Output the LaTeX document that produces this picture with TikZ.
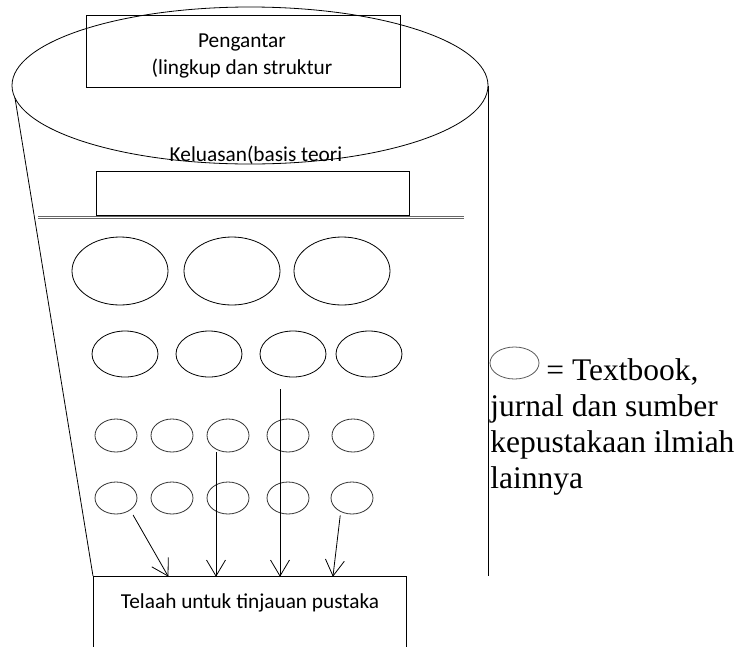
\documentclass[tikz,border=0pt]{standalone}
\usepackage{fontspec}
\setmainfont{Liberation Serif}
\newfontfamily\calfont{Carlito}
\usetikzlibrary{shapes.geometric,calc}
\begin{document}
\begin{tikzpicture}[x=1pt,y=-1pt,line width=0.8pt,
  oval/.style={draw,ellipse,inner sep=0pt,outer sep=0pt},
  box/.style={draw,rectangle,inner sep=0pt,outer sep=0pt,anchor=north west},
  sans/.style={font=\calfont\fontsize{21.3}{24}\selectfont,inner sep=0pt,anchor=base},
  serif/.style={font=\fontsize{31.5}{36}\selectfont,inner sep=0pt,anchor=base west},
  small/.style={oval,draw=black!80},
  barb/.style={line width=0.8pt,line join=miter}]
\path[use as bounding box] (0,0) rectangle (742,646);
\clip (0,0) rectangle (742,646);
% top cylinder cap
\node[oval,minimum width=476pt,minimum height=157pt] (top) at (250,85.5) {};
\node[box,minimum width=314pt,minimum height=72pt] (intro) at (86,15) {};
\node[sans] (t1) at (242,47) {Pengantar};
\node[sans] (t2) at (242,74) {(lingkup dan struktur};
\node[sans] (t3) at (256,161) {Keluasan(basis teori};
\node[box,minimum width=313pt,minimum height=44pt] (kel) at (96,171) {};
% double line
\draw[black!60,line width=0.7pt] (38,216) -- (464,216);
\draw[black!60,line width=0.7pt] (38,218.6) -- (464,218.6);
% row 1
\foreach \n/\x in {a/120,b/232,c/342}
  \node[oval,minimum width=96pt,minimum height=68pt] (r1\n) at (\x,271) {};
% row 2
\foreach \n/\x in {a/125,b/209,c/293,d/369}
  \node[oval,minimum width=66pt,minimum height=46pt] (r2\n) at (\x,354) {};
% row 3
\foreach \n/\x in {a/116,b/172,c/228,d/288,e/353}
  \node[small,minimum width=42pt,minimum height=33pt] (r3\n) at (\x,435.5) {};
% row 4
\foreach \n/\x in {a/116,b/172,c/228,d/288,e/352}
  \node[small,minimum width=42pt,minimum height=32pt] (r4\n) at (\x,498) {};
% bottom box
\node[box,minimum width=313pt,minimum height=100pt] (bot) at (93,576) {};
\node[sans] (t4) at (250,608) {Telaah untuk tinjauan pustaka};
% sides
\draw (top.183) -- (bot.north west);
\draw (top.east) -- (top.east |- bot.north);
% arrows
\coordinate (e1) at (168,576);
\coordinate (e2) at (216,576);
\coordinate (e3) at (280,576);
\coordinate (e4) at (333,576);
\coordinate (s1) at ($(r4a.-40)!6pt!(e1)$);
\coordinate (s2) at (r3c.south -| e2);
\coordinate (s3) at ($(r2c.south -| e3)+(0,12)$);
\coordinate (s4) at ($(r4e.-130)!4pt!(e4)$);
\foreach \i in {1,2,3,4}{
  \draw (s\i) -- (e\i);
  \coordinate (b\i) at ($(e\i)!16pt!(s\i)$);
  \draw[barb] ($(b\i)!9.5pt!90:(e\i)$) -- (e\i) -- ($(b\i)!9.5pt!-90:(e\i)$);
}
% legend
\node[oval,draw=black!65,minimum width=49pt,minimum height=32pt] (key) at (514.5,363) {};
\node[serif] (l1) at (546,380) {= Textbook,};
\node[serif] (l2) at (490,416) {jurnal dan sumber};
\node[serif] (l3) at (490,452) {kepustakaan ilmiah};
\node[serif] (l4) at (490,488) {lainnya};
\end{tikzpicture}
\end{document}
